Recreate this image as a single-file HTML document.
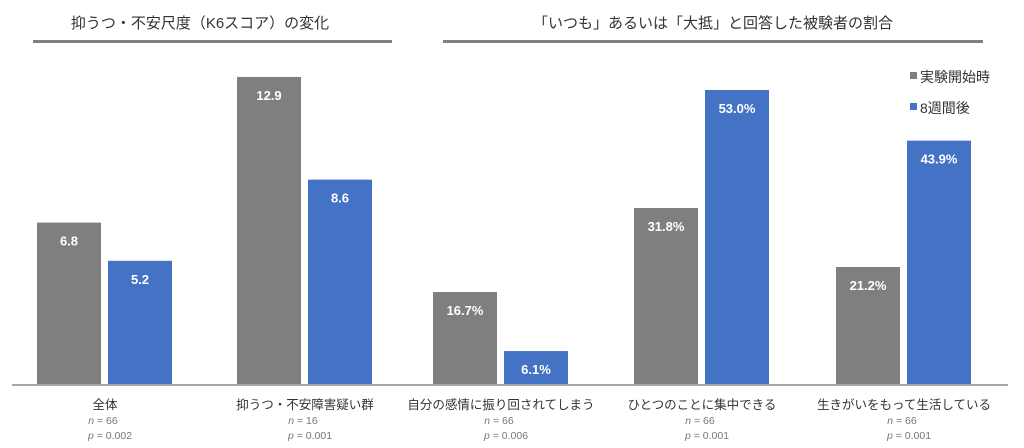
<!DOCTYPE html>
<html><head><meta charset="utf-8"><style>
body{margin:0;background:#fff;}
svg{display:block;font-family:"Liberation Sans","Noto Sans CJK JP",sans-serif;}
</style></head><body>
<svg id="c" width="1024" height="448" viewBox="0 0 1024 448">
<text x="200" y="28" text-anchor="middle" font-size="15" fill="#333">抑うつ・不安尺度（K6スコア）の変化</text>
<rect x="33" y="40" width="359" height="3" fill="#808080"/>
<text x="713" y="28" text-anchor="middle" font-size="15" fill="#333">「いつも」あるいは「大抵」と回答した被験者の割合</text>
<rect x="443" y="40" width="540" height="3" fill="#808080"/>
<rect x="910" y="72" width="7" height="7" fill="#7f7f7f"/>
<text x="920" y="82" font-size="14" fill="#333">実験開始時</text>
<rect x="910" y="103" width="7" height="7" fill="#4472c4"/>
<text x="920" y="113" font-size="14" fill="#333">8週間後</text>
<g id="bars"></g>
<rect x="12" y="384" width="996" height="2" fill="#a6a6a6"/>
<g id="labels"></g>
</svg>
<script>
const categories=["全体","抑うつ・不安障害疑い群","自分の感情に振り回されてしまう","ひとつのことに集中できる","生きがいをもって生活している"];
const baseline=[6.8,12.9,16.7,31.8,21.2];
const week8=[5.2,8.6,6.1,53.0,43.9];
const isPercent=[false,false,true,true,true];
const nLabels=["66","16","66","66","66"];
const pLabels=["0.002","0.001","0.006","0.001","0.001"];
const centers=[105,305,501,702,904];
const baseY=385;
function yScore(v){return baseY-v*23.88;}
function yPct(v){return baseY-v*5.566;}
const NS="http://www.w3.org/2000/svg";
const bars=document.getElementById('bars'),labs=document.getElementById('labels');
function mk(t,a,p){const e=document.createElementNS(NS,t);for(const k in a)e.setAttribute(k,a[k]);p.appendChild(e);return e;}
categories.forEach((c,i)=>{
  const f=isPercent[i]?yPct:yScore;
  [[baseline[i],'#7f7f7f',centers[i]-68,'baseline'],[week8[i],'#4472c4',centers[i]+3,'week8']].forEach(([v,col,x,s])=>{
    const y=f(v);
    const r=mk('rect',{x:x,y:y,width:64,height:baseY-y,fill:col},bars);
    
    
    const t=mk('text',{x:x+32,y:y+23,'text-anchor':'middle','font-size':13,fill:'#fff','font-weight':'bold'},bars);
    t.textContent=isPercent[i]?v.toFixed(1)+'%':v.toFixed(1);
    
    
  });
  const cx=centers[i];
  const t=mk('text',{x:cx,y:409,'text-anchor':'middle','font-size':12.5,fill:'#333'},labs);
  t.textContent=c;
  
  
  const n=mk('text',{x:cx-2,y:424,'text-anchor':'middle','font-size':10.5,fill:'#777'},labs);
  n.innerHTML='<tspan font-style="italic">n</tspan> = '+nLabels[i];
  
  
  const p=mk('text',{x:cx+5,y:439,'text-anchor':'middle','font-size':10.5,fill:'#777'},labs);
  p.innerHTML='<tspan font-style="italic">p</tspan> = '+pLabels[i];
  
  
});
</script>
</body></html>
